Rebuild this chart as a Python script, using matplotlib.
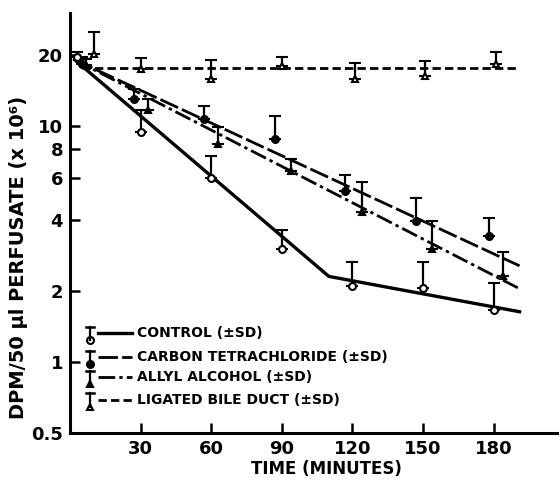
import numpy as np
import matplotlib
matplotlib.use("Agg")
import matplotlib.pyplot as plt

# points (minutes, DPM/50 ul x 10^6), upper SD end
ctrl_t = [3, 30, 60, 90, 120, 150, 180]
ctrl_y = [19.5, 9.4, 6.0, 3.0, 2.1, 2.06, 1.66]
ctrl_up = [20.5, 11.6, 7.45, 3.6, 2.65, 2.65, 2.16]

ccl4_t = [5, 27, 57, 87, 117, 147, 178]
ccl4_y = [18.3, 13.0, 10.7, 8.8, 5.3, 3.96, 3.42]
ccl4_up = [19.5, 14.3, 12.1, 11.0, 6.2, 4.95, 4.07]

allyl_t = [7, 33, 63, 94, 124, 154, 184]
allyl_y = [18.0, 11.6, 8.4, 6.4, 4.3, 3.0, 2.31]
allyl_up = [19.2, 13.0, 9.9, 7.25, 5.8, 3.96, 2.92]

lig_t = [10, 30, 60, 90, 121, 151, 181]
lig_y = [20.2, 17.4, 15.8, 17.9, 15.8, 16.3, 18.3]
lig_up = [25.0, 19.4, 18.9, 19.6, 18.5, 18.7, 20.6]

# fitted lines as drawn
ctrl_line_t = [2, 110, 191]
ctrl_line_y = [19.0, 2.3, 1.63]
ccl4_line_t = [2, 191]
ccl4_line_y = [19.0, 2.55]
allyl_line_t = [2, 191]
allyl_line_y = [19.0, 2.04]
lig_line_t = [5, 190]
lig_line_y = [17.6, 17.6]

labels = ["CONTROL (\u00b1SD)", "CARBON TETRACHLORIDE (\u00b1SD)",
          "ALLYL ALCOHOL (\u00b1SD)", "LIGATED BILE DUCT (\u00b1SD)"]

plt.rcParams['font.family'] = ['DejaVu Sans']
plt.rcParams['font.weight'] = 'bold'

fig = plt.figure(figsize=(5.6, 4.8), dpi=100)
ax = fig.add_axes([0.125, 0.098, 0.87, 0.875])

series = [
    (ctrl_t, ctrl_y, ctrl_up, ctrl_line_t, ctrl_line_y, 'o', 'white', '-', 2.4),
    (ccl4_t, ccl4_y, ccl4_up, ccl4_line_t, ccl4_line_y, 'o', 'black', (0, (7, 1.5)), 2.0),
    (allyl_t, allyl_y, allyl_up, allyl_line_t, allyl_line_y, '^', 'black', (0, (6, 1.5, 1.2, 1.5)), 2.0),
    (lig_t, lig_y, lig_up, lig_line_t, lig_line_y, '^', 'white', (0, (3, 1.5)), 2.0),
]

for t, y, up, lt, ly, m, fc, ls, lw in series:
    ax.plot(lt, ly, color='black', linestyle=ls, linewidth=lw)
    y = np.array(y)
    err = np.array(up) - y
    ax.errorbar(t, y, yerr=[np.zeros_like(err), err], fmt=m, ms=5,
                mfc=fc, mec='black', mew=1.5, ecolor='black',
                elinewidth=1.6, capsize=4, capthick=1.8)

ax.set_yscale('log')
ax.set_xlim(0, 207)
ax.set_ylim(0.5, 30)
ax.set_yticks([0.5, 1, 2, 4, 6, 8, 10, 20])
ax.set_yticklabels(['0.5', '1', '2', '4', '6', '8', '10', '20'])
ax.yaxis.set_minor_locator(matplotlib.ticker.NullLocator())
ax.set_xticks([30, 60, 90, 120, 150, 180])
ax.tick_params(direction='in', length=7, width=1.8, labelsize=13, pad=5)
for s in ['top', 'right']:
    ax.spines[s].set_visible(False)
for s in ['left', 'bottom']:
    ax.spines[s].set_linewidth(2.2)

ax.set_xlabel('TIME (MINUTES)', fontsize=12, fontweight='bold', va='center')
ax.xaxis.set_label_coords(0.527, -0.087)
ax.set_ylabel('DPM/50 \u00b5l PERFUSATE (x 10\u2076)', fontsize=14,
              fontweight='bold')
ax.yaxis.set_label_coords(-0.086, 0.417)

# legend drawn by hand
rows = [0.238, 0.181, 0.133, 0.079]
for (t, y, up, lt, ly, m, fc, ls, lw), lab, ry in zip(series, labels, rows):
    ax.plot([0.041], [ry - 0.016], marker=m, ms=5, mfc=fc, mec='black',
            mew=1.5, transform=ax.transAxes, clip_on=False)
    ax.plot([0.041, 0.041], [ry - 0.016, ry + 0.015], color='black',
            lw=1.6, transform=ax.transAxes)
    ax.plot([0.033, 0.049], [ry + 0.015, ry + 0.015], color='black',
            lw=1.8, transform=ax.transAxes)
    ax.plot([0.057, 0.127], [ry, ry], color='black', linestyle=ls,
            linewidth=lw, transform=ax.transAxes)
    ax.text(0.137, ry, lab, transform=ax.transAxes, fontsize=10,
            fontweight='bold', va='center', ha='left')

fig.savefig('out.png', dpi=100)
